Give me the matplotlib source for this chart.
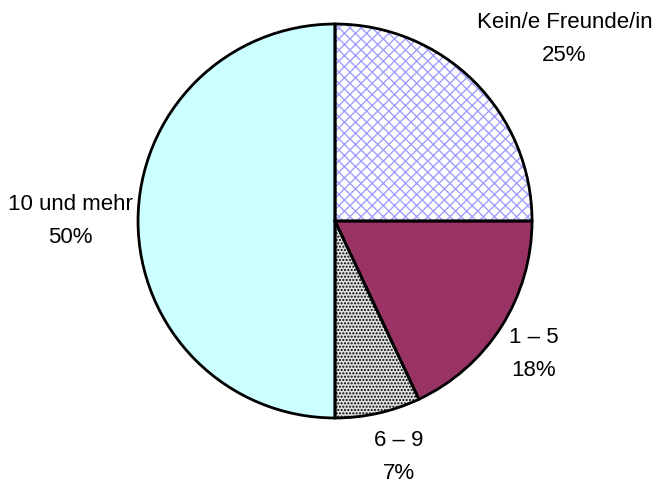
import matplotlib.pyplot as plt

# data
labels = ['Kein/e Freunde/in', '1 – 5', '6 – 9', '10 und mehr']
values = [25, 18, 7, 50]
pct_labels = ['25%', '18%', '7%', '50%']

face_colors = ['white', '#993366', '#e0e0e0', '#ccffff']
hatch_colors = ['#a0a0ff', '#993366', 'black', '#ccffff']
hatches = ['xxx', '', '.....', '']

plt.rcParams['font.family'] = ['Liberation Sans', 'DejaVu Sans']
plt.rcParams['hatch.linewidth'] = 1.0

fig = plt.figure(figsize=(6.52, 4.87), dpi=100)
ax = fig.add_axes([0.2117, 0.1417, 0.6043, 0.809])

# fills + hatches (hatch colour follows edgecolor)
wedges, _ = ax.pie(values, startangle=90, counterclock=False, radius=1,
                   colors=face_colors, wedgeprops=dict(linewidth=0))
for w, h, hc in zip(wedges, hatches, hatch_colors):
    w.set_hatch(h)
    w.set_edgecolor(hc)

# black outlines on top
ax.pie(values, startangle=90, counterclock=False, radius=1,
       colors=['none'] * 4, wedgeprops=dict(linewidth=2, edgecolor='black', facecolor='none'))

ax.set_xlim(-1, 1)
ax.set_ylim(-1, 1)
ax.set_aspect('equal')
ax.axis('off')

# label positions
label_pos = [(1.165, 0.924), (1.01, -0.675), (0.325, -1.198), (-1.345, 0.0)]
for lab, pct, (x, y) in zip(labels, pct_labels, label_pos):
    ax.text(x, y, lab + '\n' + pct, ha='center', va='center', fontsize=16,
            linespacing=1.7, clip_on=False)

fig.savefig('out.png', dpi=100)
